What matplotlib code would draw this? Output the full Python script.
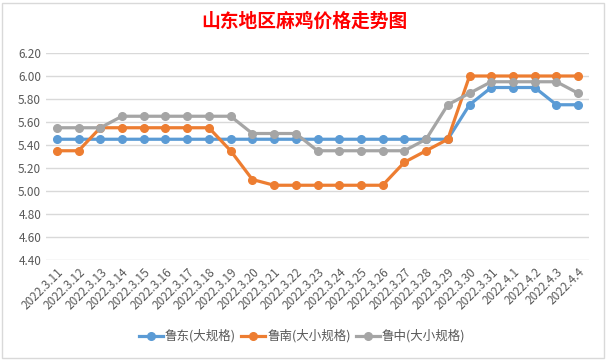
import matplotlib
matplotlib.use('Agg')
import matplotlib.pyplot as plt
from matplotlib.patches import Rectangle

plt.rcParams['font.family'] = ['Noto Sans CJK SC', 'DejaVu Sans']

dates = ['2022.3.11', '2022.3.12', '2022.3.13', '2022.3.14', '2022.3.15',
         '2022.3.16', '2022.3.17', '2022.3.18', '2022.3.19', '2022.3.20',
         '2022.3.21', '2022.3.22', '2022.3.23', '2022.3.24', '2022.3.25',
         '2022.3.26', '2022.3.27', '2022.3.28', '2022.3.29', '2022.3.30',
         '2022.3.31', '2022.4.1', '2022.4.2', '2022.4.3', '2022.4.4']

ludong = [5.45, 5.45, 5.45, 5.45, 5.45, 5.45, 5.45, 5.45, 5.45, 5.45,
          5.45, 5.45, 5.45, 5.45, 5.45, 5.45, 5.45, 5.45, 5.45, 5.75,
          5.90, 5.90, 5.90, 5.75, 5.75]
lunan = [5.35, 5.35, 5.55, 5.55, 5.55, 5.55, 5.55, 5.55, 5.35, 5.10,
         5.05, 5.05, 5.05, 5.05, 5.05, 5.05, 5.25, 5.35, 5.45, 6.00,
         6.00, 6.00, 6.00, 6.00, 6.00]
luzhong = [5.55, 5.55, 5.55, 5.65, 5.65, 5.65, 5.65, 5.65, 5.65, 5.50,
           5.50, 5.50, 5.35, 5.35, 5.35, 5.35, 5.35, 5.45, 5.75, 5.85,
           5.95, 5.95, 5.95, 5.95, 5.85]

series = [('鲁东(大规格)', ludong, '#5B9BD5'),
          ('鲁南(大小规格)', lunan, '#ED7D31'),
          ('鲁中(大小规格)', luzhong, '#A5A5A5')]

yticks = [4.4, 4.6, 4.8, 5.0, 5.2, 5.4, 5.6, 5.8, 6.0, 6.2]

fig = plt.figure(figsize=(6.08, 3.6), dpi=100)
ax = fig.add_axes([46 / 608, 100 / 360, 543 / 608, 207 / 360])

x = range(len(dates))
for name, vals, col in series:
    ax.plot(x, vals, color=col, lw=2.3, marker='o', ms=5.5, label=name)

ax.set_xlim(-0.5, len(dates) - 0.5)
ax.set_ylim(4.4, 6.2)
ax.set_yticks(yticks)
ax.set_yticklabels(['%.2f' % v for v in yticks])
ax.set_xticks(list(x))
ax.set_xticklabels(dates, rotation=45, ha='right', rotation_mode='anchor')
ax.tick_params(length=0, labelsize=8.5, labelcolor='#595959')
ax.tick_params(axis='x', pad=4)
ax.grid(axis='y', color='#D9D9D9', lw=1)
ax.set_axisbelow(True)
for s in ax.spines.values():
    s.set_visible(False)

fig.text(0.5, 0.94, '山东地区麻鸡价格走势图', ha='center', va='center',
         fontsize=13.5, fontweight='bold', color='#FF0000')

leg = ax.legend(loc='center', bbox_to_anchor=(0.497, 0.066),
                bbox_transform=fig.transFigure, ncol=3, frameon=False,
                fontsize=9, handlelength=1.9, columnspacing=0.4,
                handletextpad=0.2)
for t in leg.get_texts():
    t.set_color('#595959')

fig.patches.append(Rectangle((0.004, 0.006), 0.99, 0.985, transform=fig.transFigure,
                             fill=False, edgecolor='#D9D9D9', lw=1))

fig.savefig('out.png', dpi=100, facecolor='white')
